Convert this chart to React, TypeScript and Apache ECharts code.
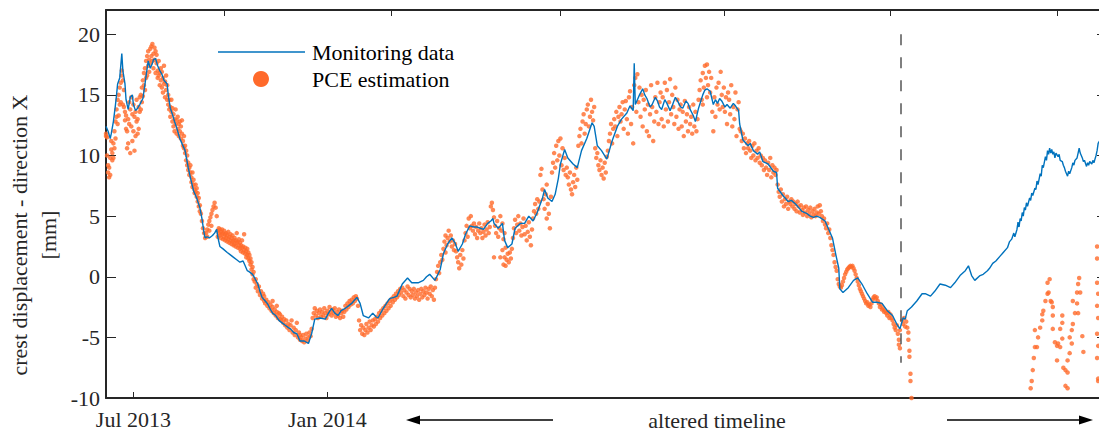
import React, { useEffect, useRef } from "react";
import * as echarts from "echarts";

// x values: days since 5 Jun 2013 (timeline altered after the dashed divider)
const bottomTickDays = [26, 210];
const bottomTickLabels = ["Jul 2013", "Jan 2014"];
const topTickDays = [112, 271, 431, 586, 744, 902];
const yTickValues = [-10, -5, 0, 5, 10, 15, 20];
const dividerDay = 754;
const dividerTop = 20;
const dividerBottom = -7.1;

const monitoringData: [number, number][] = [
  [0,12.4],[2,12.0],[4,11.4],[5,11.8],[7,12.8],[9,14.2],[10,15.0],[11,15.9],[13,16.4],[15,18.4],[16,17.0],[18,15.9],[19,14.6],[21,13.8],[23,14.8],[25,15.0],[26,14.2],[28,13.7],[30,13.9],[32,14.2],[35,14.7],[37,15.9],[40,17.8],[42,17.2],[44,17.6],[45,17.9],[47,18.0],[49,17.4],[51,17.0],[53,16.7],[55,16.2],[58,15.9],[59,15.0],[61,13.9],[63,13.4],[65,12.8],[67,12.3],[70,11.4],[72,11.0],[75,10.4],[78,9.0],[80,8.2],[83,7.1],[86,6.5],[89,5.7],[91,4.8],[93,3.6],[94,3.2],[96,3.3],[98,3.2],[101,3.4],[103,3.6],[105,3.9],[106,3.3],[108,2.5],[111,2.3],[115,2.0],[118,1.8],[121,1.6],[124,1.4],[127,1.2],[130,1.3],[132,0.9],[134,0.5],[136,0.4],[139,0.2],[141,-0.1],[144,-0.6],[146,-1.2],[148,-1.7],[151,-2.0],[153,-2.2],[156,-2.7],[158,-3.0],[161,-3.2],[164,-3.6],[167,-3.8],[170,-4.0],[173,-4.2],[175,-4.3],[178,-4.6],[181,-4.7],[184,-5.3],[188,-5.3],[192,-5.5],[195,-4.7],[198,-3.5],[203,-3.4],[208,-3.5],[211,-3.0],[214,-2.6],[217,-3.0],[220,-3.2],[223,-2.8],[227,-2.6],[230,-2.4],[233,-2.2],[236,-1.9],[238,-1.7],[241,-2.2],[244,-3.2],[249,-3.4],[253,-3.0],[256,-3.3],[258,-3.4],[263,-2.6],[266,-2.2],[269,-1.8],[273,-1.7],[276,-1.6],[281,-0.6],[286,-0.1],[290,-0.5],[296,-0.5],[301,-0.3],[304,0.0],[307,0.2],[312,-0.3],[317,0.6],[320,1.9],[324,2.7],[328,3.2],[331,2.8],[334,2.1],[338,2.7],[341,3.5],[345,4.2],[349,4.1],[352,4.1],[355,4.0],[358,3.9],[362,4.4],[365,4.6],[367,4.8],[368,4.4],[372,4.0],[376,4.4],[378,3.0],[381,2.4],[385,2.7],[388,4.0],[393,4.4],[397,4.4],[401,5.0],[405,4.6],[409,5.3],[414,6.5],[416,7.2],[419,6.5],[423,6.2],[426,6.8],[429,8.1],[431,9.3],[435,10.5],[438,9.8],[443,9.3],[447,9.0],[451,10.4],[456,11.4],[461,12.7],[463,12.4],[466,10.8],[470,10.4],[475,9.7],[480,11.2],[485,12.4],[489,13.0],[494,13.5],[497,14.1],[500,13.7],[501,17.6],[502,14.2],[504,14.6],[506,15.0],[509,15.5],[511,15.0],[513,14.7],[516,14.0],[518,14.2],[521,14.8],[523,14.5],[525,14.0],[527,13.8],[530,14.6],[532,14.3],[535,13.7],[537,14.1],[540,14.8],[542,14.5],[545,14.0],[547,13.9],[550,14.5],[552,14.3],[554,13.8],[557,13.3],[559,12.8],[562,13.9],[566,15.0],[568,15.4],[570,15.5],[573,15.3],[576,14.2],[578,14.6],[580,14.3],[582,14.7],[584,14.5],[587,14.0],[589,14.2],[592,13.9],[595,14.3],[597,14.1],[600,13.7],[601,12.6],[604,11.3],[609,10.8],[611,11.0],[614,10.4],[618,10.1],[620,10.3],[623,9.5],[628,9.3],[633,8.7],[636,8.6],[637,7.3],[642,6.7],[647,6.2],[650,6.3],[654,6.0],[657,5.7],[660,5.4],[665,5.2],[668,5.0],[671,4.9],[674,5.0],[677,4.9],[682,4.6],[685,4.0],[689,3.2],[692,1.9],[695,0.7],[696,-1.0],[699,-1.3],[704,-0.9],[709,-0.3],[713,-0.1],[717,-0.6],[722,-1.4],[727,-2.1],[731,-2.1],[736,-2.2],[741,-2.8],[746,-3.2],[750,-3.9],[753,-4.3],[754,-4.0],[756,-3.4],[758,-3.5],[760,-2.8],[764,-2.5],[769,-2.0],[774,-1.4],[777,-1.4],[782,-1.6],[786,-1.2],[791,-0.6],[796,-0.7],[801,-0.9],[805,-0.5],[810,0.1],[815,0.5],[818,0.9],[821,0.1],[824,-0.3],[829,0.1],[832,0.2],[836,0.5],[838,0.7],[841,1.1],[844,1.3],[848,1.7],[851,2.0],[855,2.4],[857,2.9],[859,3.1],[861,3.6],[862,3.3],[864,3.9],[865,4.5],[866,4.1],[867,4.8],[868,4.6],[869,5.3],[870,5.0],[871,5.7],[872,5.5],[873,6.1],[874,5.8],[876,6.5],[877,6.3],[878,6.9],[879,6.7],[881,7.3],[882,7.2],[883,7.9],[884,7.6],[886,8.5],[887,8.3],[888,9.2],[889,9.0],[891,9.9],[892,9.6],[893,10.4],[894,10.1],[895,10.6],[896,10.2],[897,10.5],[898,10.1],[899,10.3],[900,9.8],[901,10.2],[903,9.9],[904,10.1],[905,9.6],[907,9.5],[908,9.2],[909,9.0],[910,8.7],[911,8.5],[912,8.3],[913,8.7],[914,8.5],[916,9.0],[917,9.4],[918,9.2],[919,9.6],[921,9.8],[922,10.2],[923,10.6],[924,10.2],[926,9.8],[927,9.5],[928,9.6],[930,9.1],[931,9.4],[932,9.2],[933,9.5],[935,9.3],[936,9.6],[937,9.4],[938,9.7],[939,10.0],[940,10.4],[941,11.0],[943,11.3]
];

const pceBeforeDivider: [number, number][] = [
  [0,11.6],[0,11.8],[1,11.5],[1,10.0],[2,9.2],[2,8.6],[3,8.2],[3,9.0],[4,8.4],[4,9.8],[5,10.5],[5,11.2],[6,10.2],[6,9.6],
  [7,9.8],[7,11.0],[8,10.6],[8,12.0],[9,12.8],[9,11.4],[10,13.2],[10,13.8],[11,12.6],[11,14.6],[12,15.0],[12,13.3],[13,14.2],[13,15.6],[14,16.0],[14,14.4],
  [15,16.6],[15,17.0],[16,16.2],[16,14.2],[17,15.4],[17,14.0],[18,13.6],[18,12.9],[19,13.3],[19,12.2],
  [20,12.0],[20,10.6],[21,11.0],[21,13.0],[22,12.6],[22,14.4],[23,13.8],[23,10.2],[24,12.4],[24,14.8],[25,13.4],[25,11.2],[26,12.0],[26,14.2],[27,13.2],[27,10.4],[28,11.6],[28,13.6],[29,12.8],[29,14.6],[30,11.8],[30,13.0],[31,14.0],[31,12.2],[32,13.6],[32,14.8],
  [33,15.0],[33,13.8],[34,14.4],[34,15.6],[35,16.2],[35,14.9],[36,15.8],[36,16.8],[37,17.2],[37,15.4],[38,16.4],[38,17.8],[39,18.2],[39,16.6],[40,17.4],[40,18.6],[41,17.9],[41,16.9],
  [42,18.8],[42,17.6],[43,19.0],[43,18.2],[44,17.8],[44,19.2],[45,18.4],[45,17.2],[46,18.9],[46,17.9],[47,18.6],[47,16.8],[48,17.6],[48,18.3],[49,17.0],[49,16.4],[50,17.8],[50,16.6],
  [51,16.8],[51,15.8],[52,17.2],[52,16.2],[53,15.6],[53,16.9],[54,15.2],[54,16.4],[55,17.4],[55,15.9],[56,14.8],[56,16.1],[57,15.4],[57,16.6],[58,14.6],[58,15.8],[59,15.0],[59,14.2],[60,14.6],[60,13.8],
  [61,14.0],[61,13.2],[62,13.6],[62,14.6],[63,12.8],[63,13.9],[64,12.4],[64,13.4],[65,12.0],[65,13.0],[66,12.6],[66,13.8],[67,11.8],[67,12.9],[68,12.2],[68,13.2],[69,11.6],[69,12.6],[70,12.0],[70,12.8],[71,11.4],[71,12.4],[72,11.8],[72,12.9],
  [73,11.2],[73,10.8],[74,10.6],[74,11.6],[75,10.2],[75,10.8],[76,9.6],[76,10.4],[77,9.2],[77,10.0],[78,9.4],[78,8.8],[79,9.0],[79,8.4],[80,8.6],[80,9.2],
  [81,8.2],[81,7.8],[82,8.6],[82,7.4],[83,7.6],[83,8.0],[84,7.2],[84,6.9],[85,7.6],[85,7.0],[86,6.6],[86,7.3],[87,6.9],[87,6.2],[88,6.5],[88,5.8],[89,5.9],[89,5.4],
  [90,5.2],[91,4.6],[92,4.0],[93,3.6],[94,3.2],
  [95,3.6],[96,3.9],[97,4.3],[98,4.6],[99,4.9],[100,5.2],[101,5.5],[102,5.8],[103,6.1],[104,5.7],[105,5.0],[96,3.3],[98,3.8],[100,4.2],
  [106,3.8],[106,3.3],[107,3.6],[107,4.0],[108,3.4],[108,3.9],[109,3.7],[109,3.2],[110,3.5],[110,3.9],[111,3.1],[111,3.6],[112,3.8],[112,3.3],[113,3.5],[113,3.0],[114,3.6],[114,3.2],[115,2.9],[115,3.4],[116,3.7],[116,3.1],[117,3.3],[117,2.8],[118,3.0],[118,3.5],[119,2.7],[119,3.2],[120,3.4],[120,2.9],[121,3.0],[121,2.6],[122,3.2],[122,2.7],[123,2.5],[123,3.0],[124,2.8],[124,3.6],[125,2.4],[125,2.9],[126,3.1],[126,2.6],[127,2.3],[127,2.8],[128,2.6],[128,2.1],[129,2.4],[129,3.0],[130,2.0],[130,2.5],[131,3.5],[131,2.2],[132,1.9],[132,2.4],[133,2.1],[133,1.6],[134,1.8],[134,2.3],[135,1.5],[135,2.0],[136,1.3],[136,1.8],[137,1.0],[137,1.5],[138,0.6],[138,1.2],[139,0.2],[139,0.8],[140,0.4],[140,-0.2],
  [141,-0.4],[142,-0.2],[142,-0.9],[143,-0.6],[144,-1.2],[145,-0.8],[146,-1.5],[147,-1.2],[148,-1.8],[149,-1.4],[150,-2.0],[150,-1.6],
  [151,-2.2],[152,-1.9],[153,-2.4],[154,-2.1],[155,-2.6],[156,-2.3],[157,-2.8],[158,-2.5],[159,-3.0],[160,-2.7],[161,-3.2],[162,-2.9],[163,-3.4],[164,-3.0],[165,-3.5],[165,-3.1],[158,-2.0],[162,-2.4],
  [166,-3.6],[167,-3.3],[168,-3.8],[169,-3.5],[170,-4.0],[171,-3.6],[172,-4.2],[173,-3.9],[174,-4.4],[175,-4.0],[176,-3.6],[177,-4.6],[178,-4.2],[179,-4.8],[180,-4.4],[181,-3.8],[182,-5.0],[183,-4.6],[184,-5.2],[184,-4.8],
  [185,-5.0],[186,-5.3],[187,-4.8],[188,-5.4],[189,-5.1],[190,-4.7],[191,-5.3],[192,-5.0],[193,-4.6],[194,-4.9],[195,-4.3],
  [196,-3.4],[197,-3.0],[198,-2.6],[199,-3.2],[200,-2.8],[201,-3.4],[202,-3.0],[203,-2.7],[204,-3.3],[205,-2.9],[206,-3.2],[207,-2.6],[208,-3.0],[209,-3.4],[210,-2.8],[211,-3.1],[212,-2.5],[213,-2.9],[214,-3.2],[215,-2.7],
  [216,-3.0],[217,-2.6],[218,-3.3],[219,-2.9],[220,-3.2],[221,-2.7],[222,-3.4],[223,-3.0],[224,-2.8],[225,-3.3],[226,-2.9],[227,-2.4],[228,-2.7],[229,-2.2],[230,-2.5],[231,-2.0],[232,-2.3],[233,-1.9],[234,-2.2],[235,-1.7],[236,-2.0],[237,-1.6],[238,-1.8],
  [239,-2.4],[240,-3.6],[241,-4.4],[242,-4.0],[243,-4.7],[244,-4.2],[245,-4.8],[246,-4.4],[247,-3.9],[248,-4.6],[249,-4.2],[250,-3.7],[251,-4.4],[252,-4.0],[253,-3.6],[254,-4.1],[255,-3.5],[256,-3.9],[257,-3.3],[258,-3.7],[259,-3.0],[260,-3.4],
  [261,-2.8],[262,-3.2],[263,-2.6],[264,-3.0],[265,-2.4],[266,-2.8],[267,-2.2],[268,-2.6],[269,-2.0],[270,-2.4],
  [271,-1.8],[272,-2.1],[273,-1.6],[274,-1.9],[275,-1.4],[276,-1.7],[277,-1.2],[278,-1.5],[279,-1.0],[280,-1.3],[281,-0.9],[282,-1.6],[283,-1.1],[284,-1.8],[285,-1.3],[286,-0.8],[287,-1.5],[288,-1.0],[289,-1.7],[290,-1.2],
  [291,-1.5],[292,-1.0],[293,-1.8],[294,-1.3],[295,-1.6],[296,-1.1],[297,-1.9],[298,-1.4],[299,-1.0],[300,-1.7],[301,-1.2],[302,-1.5],[303,-0.9],[304,-1.3],[305,-1.8],[306,-1.0],[307,-1.4],[308,-0.8],[309,-1.6],[310,-1.1],[311,-1.9],[312,-0.9],
  [313,-0.2],[314,0.4],[315,0.9],[316,0.3],[317,1.2],[318,1.8],[319,1.4],[320,2.3],[321,2.9],[322,2.0],[322,3.4],
  [323,2.6],[324,3.2],[325,3.8],[326,2.9],[327,3.4],[328,2.5],[329,3.0],[330,2.2],[331,2.7],[332,2.1],[333,1.6],
  [334,1.2],[335,0.7],[336,1.8],[337,1.0],[338,2.2],[339,1.5],
  [340,3.0],[341,3.6],[342,4.2],[343,3.3],[344,4.8],[345,4.0],[346,5.0],
  [347,4.2],[348,3.8],[349,4.4],[350,3.5],[351,4.1],[352,3.2],[353,3.8],[354,4.4],[355,3.6],[356,4.0],[357,3.2],[358,3.7],[359,4.3],[360,3.4],[361,3.9],[362,4.5],[363,3.6],[364,4.1],
  [365,5.8],[366,6.1],[367,5.5],[368,4.9],
  [369,4.2],[370,3.6],[371,4.6],[372,3.3],[373,4.0],[374,5.0],[375,3.8],[376,4.4],[377,3.1],[378,3.6],
  [374,1.6],[376,2.2],[377,1.0],[378,1.6],[379,2.4],[379,0.9],[380,1.4],[381,1.9],[382,1.2],[383,2.0],[384,1.5],[385,2.3],[368,1.6],
  [386,3.2],[387,4.0],[388,4.7],[389,3.6],[390,4.3],[391,5.0],[392,3.8],[393,4.4],[394,3.4],[395,4.1],[396,4.8],[397,3.5],[398,4.2],[399,3.0],[400,3.7],[401,4.5],[402,3.3],[403,2.6],[404,3.9],
  [405,4.8],[406,5.4],[407,6.0],[408,5.2],[409,6.4],[410,5.6],[411,6.2],
  [412,8.4],[413,8.9],[414,7.2],[415,6.4],[416,5.6],[417,6.8],[418,4.8],[419,6.0],[420,5.2],[421,4.0],[422,6.6],[418,7.6],
  [423,8.6],[424,9.4],[425,10.2],[426,9.0],[427,10.8],[428,9.6],[429,11.2],[430,10.0],[431,11.4],[432,9.2],[433,10.6],[434,8.8],[435,9.8],[436,8.4],
  [437,9.0],[438,8.2],[439,7.6],[440,8.6],[441,7.2],[442,6.8],[443,7.8],[444,8.4],[445,7.4],[446,9.0],[447,8.0],
  [448,10.8],[449,11.6],[450,12.2],[451,11.0],[452,12.8],[453,13.4],[454,11.8],[455,12.6],[456,13.8],[457,14.2],[458,12.4],[459,13.2],[460,14.6],[461,13.6],[462,12.9],[463,14.0],
  [464,10.6],[465,9.8],[466,10.2],[467,9.2],[468,8.8],[469,9.6],[470,8.4],[471,9.0],[472,8.1],[473,9.4],[474,8.6],[475,9.9],[476,10.4],
  [477,11.2],[478,11.8],[479,12.6],[480,11.0],[481,12.2],[482,13.0],[483,12.4],[484,13.6],[485,11.6],[486,13.2],[487,14.0],[488,12.8],[489,13.4],[490,14.4],[491,12.2],[492,13.8],[493,14.5],[494,13.0],[495,11.8],
  [496,14.8],[497,15.3],[498,12.6],[499,14.0],[500,11.0],[501,15.8],[502,16.4],[503,13.6],[504,16.7],[505,14.4],[506,15.6],
  [507,13.2],[508,15.0],[509,12.4],[510,14.6],[511,13.8],[512,15.4],[513,12.0],[514,14.2],[515,11.6],[516,13.4],[517,15.8],[518,14.0],[519,11.2],[520,12.8],[521,14.8],[522,13.6],[523,16.0],[524,12.6],[525,14.4],
  [526,15.2],[527,13.0],[528,14.8],[529,12.4],[530,16.0],[531,13.8],[532,15.4],[533,12.8],[534,14.4],[535,16.3],[536,13.4],[537,15.0],[538,14.0],[539,12.6],[540,15.6],[541,13.2],[542,14.6],[543,12.2],[544,13.8],
  [545,14.2],[546,12.4],[547,13.6],[548,11.6],[549,14.5],[550,12.8],[551,13.4],[552,12.0],[553,14.0],[554,12.6],[555,13.2],[556,11.8],[557,14.2],[558,12.4],[559,13.6],[560,12.0],[561,13.0],[562,14.6],
  [563,15.4],[564,16.2],[565,14.6],[566,16.8],[567,15.6],[568,17.4],[569,16.4],[570,17.5],[571,15.8],[572,16.9],[573,15.2],[574,16.4],[566,14.2],[570,14.8],
  [575,13.6],[576,12.0],[577,14.8],[578,13.2],[579,15.6],[580,14.2],[581,16.0],[582,13.8],[583,16.9],[584,15.0],[585,14.0],[586,15.6],[587,13.6],[588,14.8],[589,12.6],[590,15.2],
  [591,14.6],[592,13.4],[593,15.8],[594,12.4],[595,14.0],[596,13.0],[597,15.2],[598,11.6],[599,13.8],[600,14.4],[601,12.2],
  [602,12.0],[603,11.2],[604,11.8],[605,10.6],[606,11.4],[607,10.2],[608,11.0],[609,10.6],[610,11.2],[611,10.4],[612,9.8],[613,10.8],[614,10.0],[615,11.0],[616,9.6],[617,10.4],[618,9.8],[619,10.6],[620,9.4],
  [621,10.0],[622,9.2],[623,9.8],[624,8.8],[625,9.6],[626,9.0],[627,8.4],[628,9.4],[629,8.8],[630,9.8],[631,8.2],[632,9.2],[633,8.6],[634,9.0],[635,8.4],[636,8.8],
  [637,7.6],[638,7.0],[639,6.6],[640,7.2],[641,6.2],[642,6.8],[643,5.8],[644,6.4],[645,6.0],[646,6.6],[647,5.6],[648,6.2],
  [649,6.0],[650,6.4],[651,5.8],[652,6.2],[653,5.6],[654,6.0],[655,5.4],[656,6.2],[657,5.8],[658,5.3],[659,5.9],[660,5.5],[661,5.1],[662,5.7],[663,5.3],[664,5.8],[665,5.0],[666,5.5],[667,5.2],[668,5.7],[669,4.9],[670,5.4],[671,5.1],[672,5.6],[673,5.0],[674,5.3],[675,5.8],[676,5.2],[677,5.9],[678,5.4],
  [679,5.0],[680,4.6],[681,4.8],[682,4.3],[683,4.0],[684,4.4],[685,3.6],[686,3.9],[687,3.2],[688,2.6],[689,2.2],[690,1.8],
  [691,1.2],[692,0.8],[693,0.5],[694,-0.2],[695,-0.6],[696,-0.8],[697,-0.9],
  [698,-0.7],[699,-0.4],[700,-0.1],[701,0.2],[702,0.4],[703,0.6],[704,0.7],[705,0.8],[706,0.9],[707,0.8],[708,0.9],[709,0.7],[710,0.5],[711,0.2],[712,-0.1],[713,-0.4],[714,-0.7],[715,-1.0],[716,-1.2],
  [717,-1.4],[718,-1.6],[719,-1.8],[720,-2.0],[721,-2.2],[722,-2.1],[723,-2.4],[724,-2.3],[725,-2.5],[726,-2.2],[727,-1.9],[728,-1.7],[729,-1.6],[730,-1.8],[731,-1.7],[732,-2.0],
  [733,-2.2],[734,-2.5],[735,-2.3],[736,-2.7],[737,-2.6],[738,-2.9],[739,-2.8],[740,-3.0],[741,-3.2],[742,-2.9],[743,-3.4],[744,-3.1],[745,-3.4],
  [746,-3.6],[747,-3.9],[748,-4.2],[749,-4.4],[750,-4.0],[751,-4.7],[752,-5.2],[752,-5.6],[753,-5.9],[753,-4.4],
  [755,-3.6],[756,-3.9],[757,-3.4],[758,-4.1],[759,-3.7],[760,-4.2],
  [761,-4.6],[761,-5.2],[762,-6.1],[762,-6.6],[763,-8.0],[763,-8.6],[764,-10.0]
];

const pceAfterDivider: [number, number][] = [
  [877,-9.2],[878,-8.6],[879,-7.7],[880,-6.7],[881,-5.8],[883,-5.8],[881,-4.4],[884,-5.0],[886,-4.2],[888,-3.6],[889,-2.8],[888,-3.1],[891,-2.0],[893,-1.4],[893,-0.5],[895,-0.2],[894,-1.3],[896,-2.0],[897,-2.1],[898,-2.5],[898,-3.2],[898,-4.3],[900,-5.4],[902,-5.7],[903,-5.5],[905,-5.8],[907,-5.1],[907,-3.8],[907,-3.2],[905,-4.3],[902,-6.9],[908,-7.5],[910,-7.7],[912,-7.9],[910,-9.0],[912,-9.2],[912,-6.9],[914,-6.3],[914,-5.0],[916,-5.5],[916,-4.4],[917,-3.9],[917,-2.0],[919,-3.0],[921,-2.2],[921,-1.3],[922,-0.6],[923,-0.1],[922,-3.0],[924,-1.3],[926,-4.9],[927,-6.2],
  [940,2.5],[940,1.5],[940,-0.5],[941,-1.4],[940,-2.4],[941,-3.4],[940,-4.7],[941,-5.7],[940,-6.7],[941,-8.6],[941,-8.4]
];

const FONT = '"Liberation Serif", "Times New Roman", serif';
const AXIS_COLOR = "#262626";
const BLUE = "#0072BD";
const ORANGE = "#FF6A2B";

export default function App() {
  const ref = useRef<HTMLDivElement>(null);
  useEffect(() => {
    if (!ref.current) return;
    const chart = echarts.init(ref.current, null, { renderer: "svg" });
    const axisLine = { show: true, onZero: false, lineStyle: { color: AXIS_COLOR, width: 2 } };
    chart.setOption({
      animation: false,
      backgroundColor: "#ffffff",
      grid: { left: 106, top: 10, width: 1001, height: 388 },
      xAxis: [
        {
          type: "value", min: 0, max: 949.4, position: "bottom",
          axisLine,
          axisTick: { show: true, inside: true, length: 6, customValues: bottomTickDays, lineStyle: { color: AXIS_COLOR, width: 1 } },
          axisLabel: {
            show: true, customValues: bottomTickDays,
            formatter: (v: number) => bottomTickLabels[bottomTickDays.indexOf(Math.round(v))] ?? "",
            fontFamily: FONT, fontSize: 22, color: AXIS_COLOR, margin: 10,
          },
          splitLine: { show: false },
        },
        {
          type: "value", min: 0, max: 949.4, position: "top",
          axisLine,
          axisTick: { show: true, inside: true, length: 6, customValues: topTickDays, lineStyle: { color: AXIS_COLOR, width: 1 } },
          axisLabel: { show: false },
          splitLine: { show: false },
        },
      ],
      yAxis: [
        {
          type: "value", min: -10, max: 22, position: "left",
          axisLine,
          axisTick: { show: true, inside: true, length: 10, customValues: yTickValues, lineStyle: { color: AXIS_COLOR, width: 1 } },
          axisLabel: { show: true, customValues: yTickValues, fontFamily: FONT, fontSize: 22, color: AXIS_COLOR, margin: 6 },
          splitLine: { show: false },
        },
        {
          type: "value", min: -10, max: 22, position: "right",
          axisLine,
          axisTick: { show: true, inside: true, length: 10, customValues: yTickValues, lineStyle: { color: AXIS_COLOR, width: 1 } },
          axisLabel: { show: false },
          splitLine: { show: false },
        },
      ],
      series: [
        {
          name: "PCE estimation", type: "scatter",
          data: [...pceBeforeDivider, ...pceAfterDivider],
          symbol: "circle", symbolSize: 4.5,
          itemStyle: { color: ORANGE },
          z: 2,
        },
        {
          name: "Monitoring data", type: "line",
          data: monitoringData,
          showSymbol: false, symbol: "none",
          lineStyle: { color: BLUE, width: 1.4 },
          z: 3,
          markLine: {
            silent: true, symbol: ["none", "none"], label: { show: false },
            lineStyle: { color: "#555555", width: 1.5, type: [11, 12] },
            data: [[{ coord: [dividerDay, dividerTop] }, { coord: [dividerDay, dividerBottom] }]],
          },
        },
      ],
      graphic: [
        { type: "line", shape: { x1: 218, y1: 52, x2: 305, y2: 52 }, style: { stroke: BLUE, lineWidth: 1.5 } },
        { type: "circle", shape: { cx: 261, cy: 79, r: 8 }, style: { fill: ORANGE } },
        { type: "text", x: 312, y: 52, style: { text: "Monitoring data", fontFamily: FONT, fontSize: 22, fill: "#000", align: "left", verticalAlign: "middle" } },
        { type: "text", x: 312, y: 79, style: { text: "PCE estimation", fontFamily: FONT, fontSize: 22, fill: "#000", align: "left", verticalAlign: "middle" } },
        {
          type: "text", x: 34, y: 235, rotation: Math.PI / 2,
          style: { text: "crest displacement - direction X\n[mm]", fontFamily: FONT, fontSize: 22, fill: AXIS_COLOR, align: "center", verticalAlign: "middle", lineHeight: 29 },
        },
        { type: "text", x: 717, y: 420, style: { text: "altered timeline", fontFamily: FONT, fontSize: 22, fill: AXIS_COLOR, align: "center", verticalAlign: "middle" } },
        { type: "line", shape: { x1: 553, y1: 420, x2: 416, y2: 420 }, style: { stroke: "#000", lineWidth: 1.5 } },
        { type: "polygon", shape: { points: [[406, 420], [420, 415.5], [420, 424.5]] }, style: { fill: "#000" } },
        { type: "line", shape: { x1: 947, y1: 420, x2: 1083, y2: 420 }, style: { stroke: "#000", lineWidth: 1.5 } },
        { type: "polygon", shape: { points: [[1093, 420], [1079, 415.5], [1079, 424.5]] }, style: { fill: "#000" } },
      ],
    });
    return () => chart.dispose();
  }, []);
  return (
    <div style={{ position: "fixed", left: 0, top: 0, width: 1099, height: 432, overflow: "hidden", background: "#fff" }}>
      <div ref={ref} style={{ width: 1110, height: 432 }} />
    </div>
  );
}
